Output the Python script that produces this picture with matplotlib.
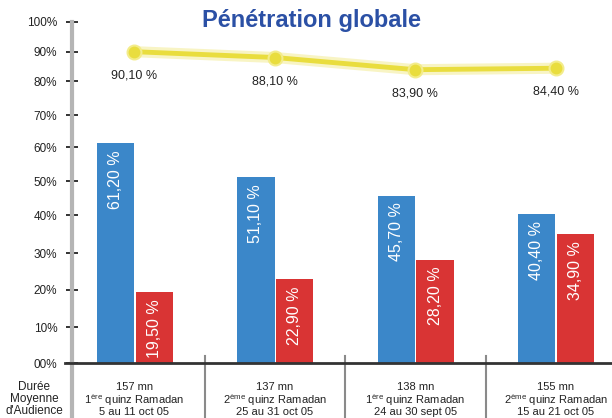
import numpy as np
import matplotlib.pyplot as plt

plt.rcParams['font.family'] = ['Liberation Sans', 'DejaVu Sans']

# data
periods_top = ['157 mn', '137 mn', '138 mn', '155 mn']
periods_mid = ['1$^{\\mathregular{ère}}$ quinz Ramadan',
               '2$^{\\mathregular{ème}}$ quinz Ramadan',
               '1$^{\\mathregular{ère}}$ quinz Ramadan',
               '2$^{\\mathregular{ème}}$ quinz Ramadan']
periods_bot = ['5 au 11 oct 05', '25 au 31 oct 05', '24 au 30 sept 05', '15 au 21 oct 05']
blue_vals = [61.2, 51.1, 45.7, 40.4]
red_vals = [19.5, 22.9, 28.2, 34.9]
penetration = [90.1, 88.1, 83.9, 84.4]
ytick_vals = [0, 10, 20, 30, 40, 50, 60, 70, 80, 90, 100]
ytick_labels = ['00%', '10%', '20%', '30%', '40%', '50%', '60%', '70%', '80%', '90%', '100%']
# the source chart has uneven tick spacing (pixel height above the baseline)
ytick_height = [0, 36, 73, 110, 148, 182, 216, 248, 282, 311, 341]

vals_ext = np.array([-100] + ytick_vals + [200], dtype=float)
h_ext = np.array([-341] + ytick_height + [682], dtype=float)


def fwd(v):
    return np.interp(v, vals_ext, h_ext)


def inv(h):
    return np.interp(h, h_ext, vals_ext)


def fmt(v):
    return '{:.2f} %'.format(v).replace('.', ',')


blue = '#3b87c9'
red = '#d93434'
yellow = '#e9dd3e'

fig = plt.figure(figsize=(6.12, 4.18), dpi=100)
ax = fig.add_axes([72 / 612, 55 / 418, 540 / 612, 341 / 418])
ax.set_yscale('function', functions=(fwd, inv))
ax.set_ylim(0, 100)
ax.set_xlim(-0.445, 3.40)

x = np.arange(len(blue_vals))
ax.bar(x - 0.135, blue_vals, 0.265, color=blue, zorder=2)
ax.bar(x + 0.14, red_vals, 0.265, color=red, zorder=2)

for xi, b, r in zip(x, blue_vals, red_vals):
    ax.annotate(fmt(b), (xi - 0.135, b), xytext=(0, -5), textcoords='offset points',
                rotation=90, ha='center', va='top', color='white', fontsize=11.5, zorder=3)
    ax.annotate(fmt(r), (xi + 0.14, r), xytext=(0, -5), textcoords='offset points',
                rotation=90, ha='center', va='top', color='white', fontsize=11.5, zorder=3)

# yellow line with a soft glow
ax.plot(x, penetration, color=yellow, lw=8, alpha=0.3, solid_capstyle='round', zorder=4)
ax.plot(x, penetration, color=yellow, lw=3.5, marker='o', ms=10,
        mfc=yellow, mec='#f3ec8a', mew=1.5, zorder=5)
for xi, p in zip(x, penetration):
    ax.annotate(fmt(p), (xi, p), xytext=(0, -17), textcoords='offset points',
                ha='center', va='center', fontsize=9, color='#222222')

ax.set_xticks([])
ax.set_yticks(ytick_vals)
ax.set_yticklabels(ytick_labels)
ax.tick_params(axis='y', direction='inout', length=9, width=1.3, color='#222222',
               labelsize=8.5, labelcolor='#222222', pad=6)
ax.yaxis.set_minor_locator(plt.NullLocator())
for s in ['top', 'right', 'bottom']:
    ax.spines[s].set_visible(False)
ax.spines['left'].set_color('#b5b5b5')
ax.spines['left'].set_linewidth(3)

# baseline and table lines below
ax.plot([-0.013, 1], [0, 0], transform=ax.get_yaxis_transform(), color='#333333',
        lw=2, clip_on=False, zorder=6)
ax.plot([0, 0], [0, -0.17], transform=ax.transAxes, color='#b5b5b5', lw=3, clip_on=False)
for xs in [0.5, 1.5, 2.5]:
    ax.plot([xs, xs], [0.02, -0.17], transform=ax.get_xaxis_transform(),
            color='#8a8a8a', lw=1.5, clip_on=False)

trans = ax.get_xaxis_transform()
for xi, t, m, b in zip(x, periods_top, periods_mid, periods_bot):
    ax.text(xi, -0.0704, t, transform=trans, ha='center', va='center', fontsize=8, color='#222222')
    ax.text(xi, -0.1075, m, transform=trans, ha='center', va='center', fontsize=8, color='#222222')
    ax.text(xi, -0.1447, b, transform=trans, ha='center', va='center', fontsize=8, color='#222222')

for yy, line in zip([387, 399, 411], ['Durée', 'Moyenne', "d'Audience"]):
    fig.text(34 / 612, 1 - yy / 418, line, ha='center', va='center', fontsize=8.5, color='#222222')

fig.text(311 / 612, 1 - 20 / 418, 'Pénétration globale', ha='center', va='center',
         fontsize=17, fontweight='bold', color='#2b50a5')

fig.savefig('out.png', dpi=100)
